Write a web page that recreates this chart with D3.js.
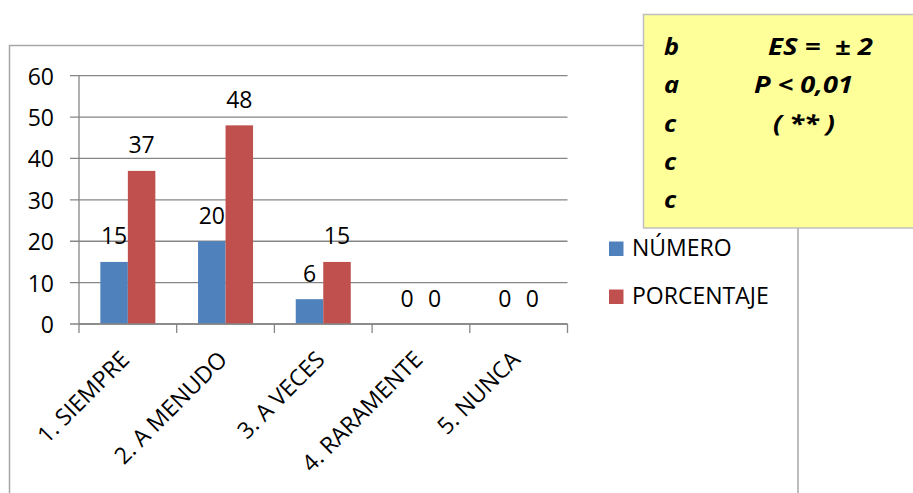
<!DOCTYPE html>
<html><head><meta charset="utf-8">
<script src="https://cdn.jsdelivr.net/npm/d3@7"></script>
<style>
html,body{margin:0;padding:0;background:#fff;}
svg{display:block;}
text{font-family:"Open Sans", Lato, sans-serif;fill:#000;}
</style></head>
<body>
<svg id="c" width="913" height="493"></svg>
<script>
const categories = ["1. SIEMPRE","2. A MENUDO","3. A VECES","4. RARAMENTE","5. NUNCA"];
const seriesNames = ["NÚMERO","PORCENTAJE"];
const numero = [15,20,6,0,0];
const porcentaje = [37,48,15,0,0];
const yTicks = [0,10,20,30,40,50,60];
const boxLeft = ["b","a","c","c","c"];
const boxRight = ["ES =  ± 2","P < 0,01","( ** )","",""];
const colors = ["#4F81BD","#C0504D"];

const svg = d3.select("#c");
const FS = 23;
const plot = {x0:79, x1:567.5, y0:324, y1:75.7};

// outer chart border
svg.append("path").attr("d","M9.5,493 L9.5,45.5 L643,45.5 M798,228 L798,493")
  .attr("fill","none").attr("stroke","#A6A6A6").attr("stroke-width",1.5);

const x = d3.scaleBand().domain(categories).range([plot.x0, plot.x1]).paddingInner(0).paddingOuter(0);
const y = d3.scaleLinear().domain([0,60]).range([plot.y0, plot.y1]);
const groupW = x.bandwidth()*0.563;
const xs = d3.scaleBand().domain(seriesNames).range([0, groupW]);

// gridlines
svg.append("g").selectAll("line").data(yTicks).join("line")
  .attr("x1", plot.x0-9).attr("x2", plot.x1)
  .attr("y1", d=>y(d)).attr("y2", d=>y(d))
  .attr("stroke","#868686").attr("stroke-width",1.3);

// y labels
svg.append("g").selectAll("text").data(yTicks).join("text")
  .attr("x", 54).attr("y", d=>y(d)+9)
  .attr("text-anchor","end").attr("font-size",FS).text(d=>d);

// y axis line
svg.append("line").attr("x1",plot.x0).attr("x2",plot.x0).attr("y1",plot.y1).attr("y2",plot.y0)
  .attr("stroke","#868686").attr("stroke-width",1.3);

// bars
const series = [numero, porcentaje];
series.forEach((vals,si)=>{
  const g = svg.append("g");
  g.selectAll("rect").data(categories).join("rect")
    .attr("x", (c)=> x(c) + (x.bandwidth()-groupW)/2 + xs(seriesNames[si]))
    .attr("width", xs.bandwidth())
    .attr("y", (c,i)=> y(vals[i]))
    .attr("height", (c,i)=> y(0)-y(vals[i]))
    .attr("fill", colors[si]);
  g.selectAll("text").data(categories).join("text")
    .attr("x", (c)=> x(c) + (x.bandwidth()-groupW)/2 + xs(seriesNames[si]) + xs.bandwidth()/2)
    .attr("y", (c,i)=> y(vals[i]) - 17.5)
    .attr("text-anchor","middle").attr("font-size",FS)
    .text((c,i)=>vals[i]);
});

// x axis line and ticks
svg.append("line").attr("x1",plot.x0).attr("x2",plot.x1).attr("y1",plot.y0).attr("y2",plot.y0)
  .attr("stroke","#868686").attr("stroke-width",1.3);
const tickPos = categories.map(c=>x(c)).concat([plot.x1]);
svg.append("g").selectAll("line").data(tickPos).join("line")
  .attr("x1",d=>d).attr("x2",d=>d).attr("y1",plot.y0).attr("y2",plot.y0+9)
  .attr("stroke","#868686").attr("stroke-width",1.3);

// x labels rotated
svg.append("g").selectAll("text").data(categories).join("text")
  .attr("transform", c=>`translate(${x(c)+x.bandwidth()/2+3},${plot.y0+37}) rotate(-45)`)
  .attr("text-anchor","end").attr("font-size",FS).text(c=>c);

// legend
const lg = svg.append("g");
seriesNames.forEach((n,i)=>{
  lg.append("rect").attr("x",609).attr("y",241.5+i*48).attr("width",14.5).attr("height",14.5).attr("fill",colors[i]);
  lg.append("text").attr("x",632).attr("y",256+i*48).attr("font-size",FS).text(n);
});

// yellow box
svg.append("rect").attr("x",643.5).attr("y",14.5).attr("width",290).attr("height",213.5)
  .attr("fill","#FFFF99").attr("stroke","#BFBFBF").attr("stroke-width",1.5);
const bx = svg.append("g").attr("font-weight","bold").attr("font-style","italic");
boxLeft.forEach((t,i)=>{
  bx.append("text").attr("x",664).attr("y",55+i*38.3).attr("font-size",FS)
    .attr("transform",`translate(${664},0) scale(1.1,1) translate(${-664},0)`).text(t);
});
const rightX = [768,754,773];
const rightLen = [105,99,62];
boxRight.forEach((t,i)=>{
  if(!t) return;
  const el = bx.append("text").attr("x",0).attr("y",0).attr("font-size",FS)
    .attr("xml:space","preserve").style("white-space","pre").text(t);
  const w = el.node().getComputedTextLength();
  const sx = rightLen[i]/w;
  el.attr("transform",`translate(${rightX[i]},${55+i*38.3}) scale(${sx},1)`);
});
</script>
</body></html>
